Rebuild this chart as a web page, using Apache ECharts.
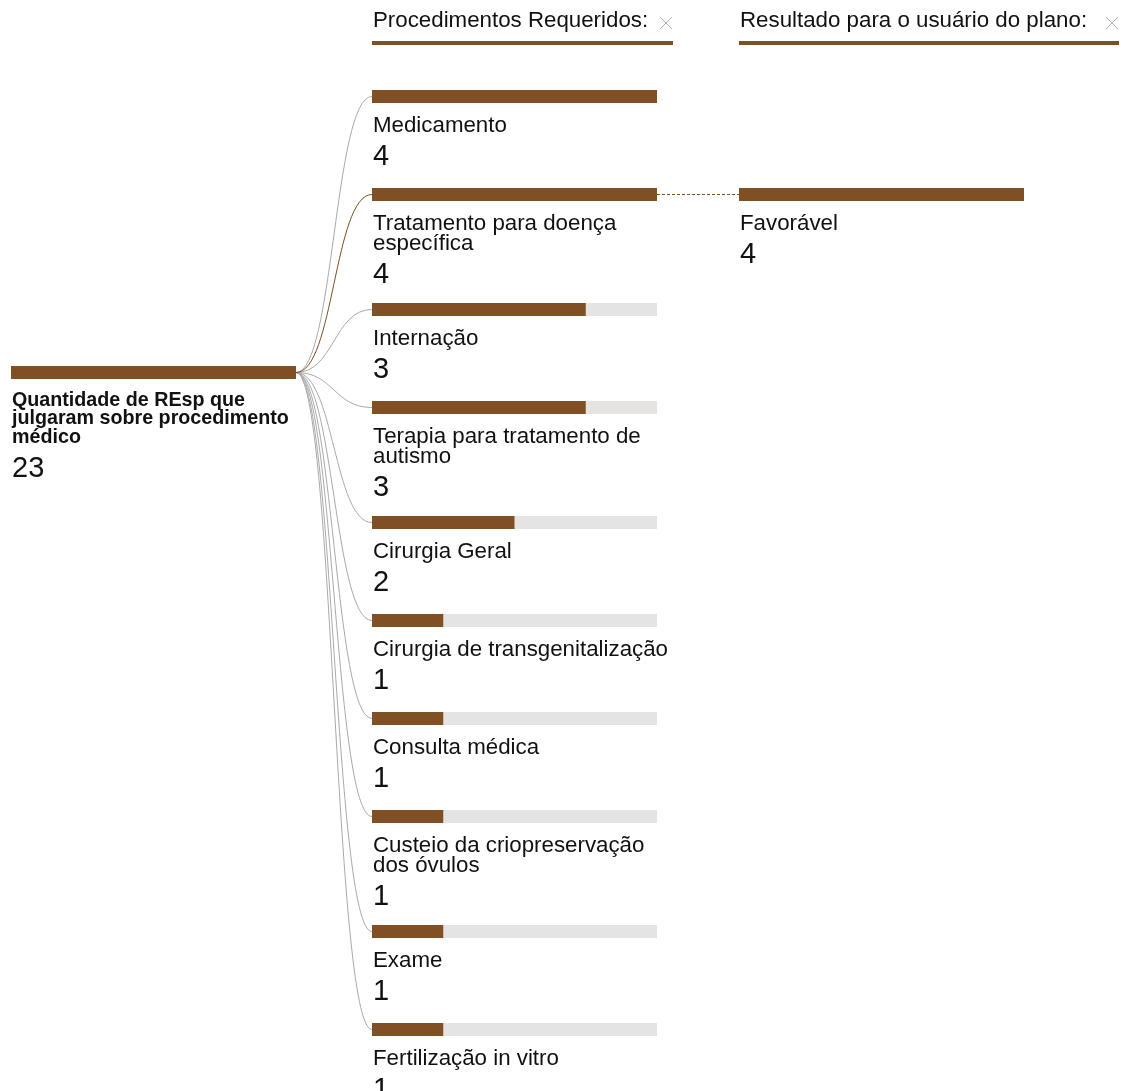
<!DOCTYPE html>
<html><head><meta charset="utf-8">
<script src="https://cdn.jsdelivr.net/npm/echarts@6/dist/echarts.min.js"></script>
<style>html,body{margin:0;padding:0;background:#fff}#c{width:1131px;height:1091px}</style>
</head><body><div id="c"></div>
<script>
// ---------------- data ----------------
const rootLabel = 'Quantidade de REsp que julgaram sobre procedimento médico';
const rootValue = 23;
const levelTitles = ['Procedimentos Requeridos:', 'Resultado para o usuário do plano:'];
const procedureCategories = [
  'Medicamento',
  'Tratamento para doença específica',
  'Internação',
  'Terapia para tratamento de autismo',
  'Cirurgia Geral',
  'Cirurgia de transgenitalização',
  'Consulta médica',
  'Custeio da criopreservação dos óvulos',
  'Exame',
  'Fertilização in vitro'
];
const procedureValues = [4, 4, 3, 3, 2, 1, 1, 1, 1, 1];
const expandedProcedure = 'Tratamento para doença específica';
const resultCategories = ['Favorável'];
const resultValues = [4];

// ---------------- style / layout ----------------
const BROWN = '#804F24';
const BG = '#E6E4E2';
const LINK_GREY = '#AAAAAA';
const FONT = 'Liberation Sans, Arial, Helvetica, sans-serif';
const W = 1131, H = 1091;
const BAR_H = 13;
const COL_LEFT = [11, 372, 739];
const COL_W = 285;
const ROOT_TOP = 366;
const FIRST_TOP = 90;
const ROW_STEP = 98, EXTRA_LINE = 17;
const LABEL_FS = 22.3, LABEL_LH = 20, WRAP_W = 305;
const ROOT_FS = 19.7, ROOT_LH = 18.5;
const VALUE_FS = 29;

const ctx = document.createElement('canvas').getContext('2d');
function measure(t, font) { ctx.font = font; return ctx.measureText(t).width; }
function wrap(text, font, width) {
  const words = text.split(' ');
  const lines = []; let cur = '';
  for (const w of words) {
    const test = cur ? cur + ' ' + w : w;
    if (cur && measure(test, font) > width) { lines.push(cur); cur = w; }
    else cur = test;
  }
  if (cur) lines.push(cur);
  return lines;
}
const labelFont = LABEL_FS + 'px ' + FONT;
const rootFont = 'bold ' + ROOT_FS + 'px ' + FONT;

// layout rows
const rootItem = { name: rootLabel, value: rootValue, top: ROOT_TOP, lines: wrap(rootLabel, rootFont, COL_W), root: true };
let t = FIRST_TOP;
const procItems = procedureCategories.map((name, i) => {
  const lines = wrap(name, labelFont, WRAP_W);
  const it = { name, value: procedureValues[i], top: t, lines };
  t += ROW_STEP + EXTRA_LINE * (lines.length - 1);
  return it;
});
const parentItem = procItems.find(p => p.name === expandedProcedure);
const resultItems = resultCategories.map((name, i) => ({
  name, value: resultValues[i], top: parentItem.top + i * ROW_STEP, lines: wrap(name, labelFont, WRAP_W)
}));

const colItems = [[rootItem], procItems, resultItems];
const colMax = [rootValue, Math.max(...procedureValues), Math.max(...resultValues)];

function colSeries(ci) {
  const items = colItems[ci];
  const max = colMax[ci];
  return {
    type: 'custom', coordinateSystem: 'cartesian2d', xAxisIndex: ci, yAxisIndex: ci,
    silent: true, animation: false, clip: false, z: 5,
    data: items.map(d => [d.value, d.top]),
    renderItem(params, api) {
      const d = items[params.dataIndex];
      const v = api.value(0), top = api.value(1);
      const p0 = api.coord([0, top]);
      const p1 = api.coord([v, top]);
      const pm = api.coord([max, top]);
      const isRoot = !!d.root;
      const fs = isRoot ? ROOT_FS : LABEL_FS;
      const lh = isRoot ? ROOT_LH : LABEL_LH;
      const labelY = p0[1] + (isRoot ? 25 : 26);
      const lastCenter = labelY + lh * d.lines.length - lh / 2;
      return {
        type: 'group',
        children: [
          { type: 'rect', shape: { x: p0[0], y: p0[1], width: pm[0] - p0[0], height: BAR_H }, style: { fill: BG } },
          { type: 'rect', shape: { x: p0[0], y: p0[1], width: p1[0] - p0[0], height: BAR_H }, style: { fill: BROWN } },
          { type: 'text', style: {
              text: d.lines.join('\n'), x: p0[0] + 1, y: labelY,
              fontSize: fs, fontFamily: FONT, fontWeight: isRoot ? 'bold' : 'normal',
              lineHeight: lh, fill: '#111', align: 'left', verticalAlign: 'top'
            } },
          { type: 'text', style: {
              text: String(v), x: p0[0] + 1, y: lastCenter + (isRoot ? 32 : 31),
              fontSize: VALUE_FS, fontFamily: FONT, fill: '#111', align: 'left', verticalAlign: 'middle'
            } }
        ]
      };
    }
  };
}

const grids = COL_LEFT.map(l => ({ left: l, width: COL_W, top: 0, height: H }));
const xAxes = colMax.map((m, i) => ({ type: 'value', gridIndex: i, min: 0, max: m, show: false }));
const yAxes = colMax.map((m, i) => ({ type: 'value', gridIndex: i, min: 0, max: H, inverse: true, show: false }));

const chart = echarts.init(document.getElementById('c'), null, { renderer: 'canvas' });
chart.setOption({
  animation: false,
  backgroundColor: '#fff',
  grid: grids, xAxis: xAxes, yAxis: yAxes,
  series: [colSeries(0), colSeries(1), colSeries(2)]
});

// links & headers using the axes' scales
const graphics = [];
const rootEnd = chart.convertToPixel({ gridIndex: 0 }, [rootValue, ROOT_TOP]);
const y0 = rootEnd[1] + BAR_H / 2;
procItems.forEach(p => {
  const s = chart.convertToPixel({ gridIndex: 1 }, [0, p.top]);
  const y1 = s[1] + BAR_H / 2;
  const mx = (rootEnd[0] + s[0]) / 2;
  const hl = p.name === expandedProcedure;
  graphics.push({
    type: 'bezierCurve', z: hl ? 3 : 2, silent: true,
    shape: { x1: rootEnd[0], y1: y0, x2: s[0], y2: y1, cpx1: mx, cpy1: y0, cpx2: mx, cpy2: y1 },
    style: { stroke: hl ? BROWN : LINK_GREY, lineWidth: 1, fill: null }
  });
});
resultItems.forEach(r => {
  const a = chart.convertToPixel({ gridIndex: 1 }, [colMax[1], parentItem.top]);
  const b = chart.convertToPixel({ gridIndex: 2 }, [0, r.top]);
  graphics.push({
    type: 'line', z: 2, silent: true,
    shape: { x1: a[0], y1: a[1] + BAR_H / 2, x2: b[0], y2: b[1] + BAR_H / 2 },
    style: { stroke: BROWN, lineWidth: 1, lineDash: [3, 2] }
  });
});
const headerFont = LABEL_FS + 'px ' + FONT;
levelTitles.forEach((title, i) => {
  const x = COL_LEFT[i + 1];
  const tw = measure(title, headerFont);
  const uw = Math.round(tw * 1.095);
  graphics.push({ type: 'text', silent: true, style: { text: title, x: x + 1, y: 21, fontSize: LABEL_FS, fontFamily: FONT, fill: '#111', align: 'left', verticalAlign: 'middle' } });
  graphics.push({ type: 'rect', silent: true, shape: { x: x, y: 41, width: uw, height: 4 }, style: { fill: BROWN } });
  const cx = x + uw - 7, cy = 23;
  graphics.push({ type: 'line', silent: true, shape: { x1: cx - 6, y1: cy - 6, x2: cx + 6, y2: cy + 6 }, style: { stroke: '#b0b0b0', lineWidth: 1 } });
  graphics.push({ type: 'line', silent: true, shape: { x1: cx + 6, y1: cy - 6, x2: cx - 6, y2: cy + 6 }, style: { stroke: '#b0b0b0', lineWidth: 1 } });
});
chart.setOption({ graphic: graphics });
</script>
</body></html>
